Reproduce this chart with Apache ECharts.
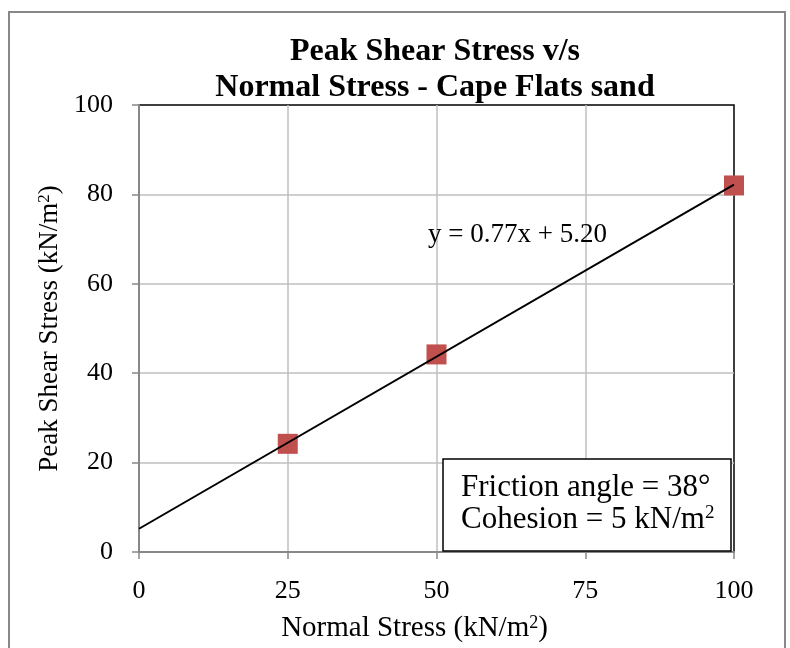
<!DOCTYPE html>
<html>
<head>
<meta charset="utf-8">
<script src="https://cdn.jsdelivr.net/npm/echarts@6/dist/echarts.min.js"></script>
<style>
  html, body { margin: 0; padding: 0; background: #fff; }
  #chart { width: 790px; height: 648px; }
</style>
</head>
<body>
<div id="chart"></div>
<script>
// measured points (kN/m2)
const normalStress = [25, 50, 100];
const peakShear = [24.2, 44.2, 82.0];
// linear trendline end points, y = 0.77x + 5.20
const trendX = [0, 100];
const trendY = [5.2, 82.2];
const equationText = 'y = 0.77x + 5.20';
const boxLines = ['Friction angle = 38°', 'Cohesion = 5 kN/m'];

const serif = '"Liberation Serif", "DejaVu Serif", serif';

const chart = echarts.init(document.getElementById('chart'), null, { renderer: 'canvas' });

function supRich(size) {
  return {
    a: { fontFamily: serif, fontSize: size, color: '#000' },
    sup: { fontFamily: serif, fontSize: Math.round(size * 0.63), color: '#000', verticalAlign: 'top', padding: [0, 0, Math.round(size * 0.38), 0] }
  };
}

const option = {
  backgroundColor: '#ffffff',
  animation: false,
  title: {
    text: 'Peak Shear Stress v/s\nNormal Stress - Cape Flats sand',
    left: 430, top: 29, textAlign: 'center',
    textStyle: { fontFamily: serif, fontSize: 32, fontWeight: 'bold', color: '#000', lineHeight: 36 }
  },
  grid: {
    left: 139, top: 105, width: 595, height: 448,
    show: true, backgroundColor: '#fff', borderColor: '#000', borderWidth: 1.5
  },
  xAxis: {
    type: 'value', min: 0, max: 100, interval: 25,
    name: '{a|Normal Stress (kN/m}{sup|2}{a|)}',
    nameLocation: 'middle', nameGap: 62,
    nameTextStyle: { rich: supRich(29), padding: [0, 44, 0, 0] },
    axisLine: { lineStyle: { color: '#888', width: 2 } },
    axisTick: { show: true, inside: false, length: 7, lineStyle: { color: '#888', width: 1.5 } },
    axisLabel: { margin: 26, fontFamily: serif, fontSize: 26, color: '#000' },
    splitLine: { show: true, showMaxLine: false, lineStyle: { color: '#bfbfbf', width: 1.5 } }
  },
  yAxis: {
    type: 'value', min: 0, max: 100, interval: 20,
    name: '{a|Peak Shear Stress (kN/m}{sup|2}{a|)}',
    nameLocation: 'middle', nameGap: 66,
    nameTextStyle: { rich: supRich(27) },
    axisLine: { show: true, lineStyle: { color: '#888', width: 2 } },
    axisTick: { show: true, inside: false, length: 7, lineStyle: { color: '#888', width: 1.5 } },
    axisLabel: { margin: 26, fontFamily: serif, fontSize: 26, color: '#000' },
    splitLine: { show: true, showMaxLine: false, lineStyle: { color: '#bfbfbf', width: 1.5 } }
  },
  series: [
    {
      name: 'Trendline', type: 'line',
      data: trendX.map((x, i) => [x, trendY[i]]),
      showSymbol: false, symbol: 'none',
      lineStyle: { color: '#000', width: 2 },
      z: 3
    },
    {
      name: 'Peak shear', type: 'scatter',
      data: normalStress.map((x, i) => [x, peakShear[i]]),
      symbol: 'rect', symbolSize: 20,
      itemStyle: { color: '#c0504d', opacity: 1 },
      z: 2
    }
  ],
  graphic: [
    {
      type: 'rect', z: -1, silent: true,
      shape: { x: 9, y: 12, width: 776, height: 660 },
      style: { fill: 'none', stroke: '#888', lineWidth: 2 }
    },
    {
      type: 'text', left: 428, top: 221, z: 10,
      style: { text: equationText, font: '27px ' + serif, fill: '#000' }
    },
    {
      type: 'rect', z: 10,
      shape: { x: 443, y: 459, width: 288, height: 92 },
      style: { fill: '#fff', stroke: '#000', lineWidth: 1.5 }
    },
    {
      type: 'text', left: 461, top: 472, z: 11,
      style: { text: boxLines[0], font: '31px ' + serif, fill: '#000' }
    },
    {
      type: 'text', left: 461, top: 504, z: 11,
      style: {
        text: '{a|' + boxLines[1] + '}{sup|2}',
        rich: {
          a: { fontFamily: serif, fontSize: 31, fill: '#000' },
          sup: { fontFamily: serif, fontSize: 19, fill: '#000', verticalAlign: 'top', padding: [0, 0, 11, 0] }
        }
      }
    }
  ]
};

chart.setOption(option);
</script>
</body>
</html>
